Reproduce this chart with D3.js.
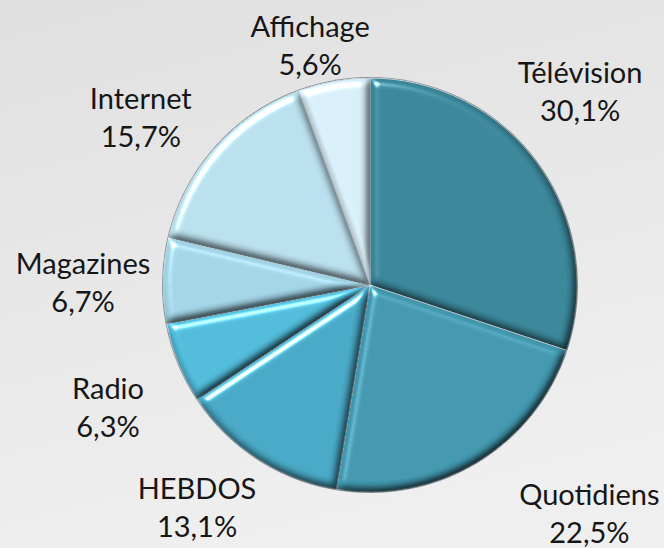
<!DOCTYPE html>
<html>
<head>
<meta charset="utf-8">
<script src="https://cdn.jsdelivr.net/npm/d3@7"></script>
<style>
  html, body { margin: 0; padding: 0; }
  body { width: 664px; height: 548px; overflow: hidden; }
  text { font-family: Lato, "Open Sans", sans-serif; fill: #161616; }
</style>
</head>
<body>
<svg id="chart" width="664" height="548"></svg>
<script>
// Media share of advertising spend
const categories = ["Télévision", "Quotidiens", "HEBDOS", "Radio", "Magazines", "Internet", "Affichage"];
const values     = [30.1, 22.5, 13.1, 6.3, 6.7, 15.7, 5.6];
const valueLabels = ["30,1%", "22,5%", "13,1%", "6,3%", "6,7%", "15,7%", "5,6%"];

const sliceColors = ["#398497", "#4196ae", "#47a6c3", "#50b9d8", "#a0d2e4", "#b7dcea", "#d5ebf5"];
// label offsets from the outer label arc, per slice
const labelNudge = [[-21, -26], [72, -15], [-18, -16], [2, 16], [-2, 4], [-16, 22], [-10, 42]];

const W = 664, H = 548;
const cx = 370, cy = 285, R = 207, labelR = 285;

const svg = d3.select("#chart");
const defs = svg.append("defs");

// soft grey backdrop
const bg = defs.append("linearGradient").attr("id", "bg")
  .attr("x1", 0).attr("y1", 0).attr("x2", 0.3).attr("y2", 1);
bg.append("stop").attr("offset", 0).attr("stop-color", "#e0e0e0");
bg.append("stop").attr("offset", 1).attr("stop-color", "#efefef");
svg.append("rect").attr("width", W).attr("height", H).attr("fill", "url(#bg)");

// rounded bevel for each wedge
const f = defs.append("filter").attr("id", "bevel")
  .attr("x", "-10%").attr("y", "-10%").attr("width", "120%").attr("height", "120%")
  .attr("color-interpolation-filters", "sRGB");
f.append("feGaussianBlur").attr("in", "SourceAlpha").attr("stdDeviation", 4).attr("result", "blur");
const diff = f.append("feDiffuseLighting").attr("in", "blur").attr("surfaceScale", 5)
  .attr("diffuseConstant", 1.155).attr("lighting-color", "#fff").attr("result", "diff");
diff.append("feDistantLight").attr("azimuth", 235).attr("elevation", 60);
f.append("feComposite").attr("in", "SourceGraphic").attr("in2", "diff")
  .attr("operator", "arithmetic").attr("k1", 1).attr("k2", 0).attr("k3", 0).attr("k4", 0)
  .attr("result", "shaded");
const spec = f.append("feSpecularLighting").attr("in", "blur").attr("surfaceScale", 5)
  .attr("specularConstant", 0.9).attr("specularExponent", 50)
  .attr("lighting-color", "#fff").attr("result", "spec");
spec.append("feDistantLight").attr("azimuth", 235).attr("elevation", 45);
f.append("feComposite").attr("in", "spec").attr("in2", "SourceAlpha")
  .attr("operator", "in").attr("result", "specIn");
f.append("feComposite").attr("in", "shaded").attr("in2", "specIn")
  .attr("operator", "arithmetic").attr("k1", 0).attr("k2", 1).attr("k3", 1).attr("k4", 0)
  .attr("result", "lit");
f.append("feComposite").attr("in", "lit").attr("in2", "SourceAlpha").attr("operator", "in");

const pie = d3.pie().sort(null).value(d => d.value);
const data = pie(categories.map((c, i) => ({ name: c, value: values[i], label: valueLabels[i], i })));

const arc = d3.arc().innerRadius(0).outerRadius(R);
const labelArc = d3.arc().innerRadius(labelR).outerRadius(labelR);

const g = svg.append("g").attr("transform", `translate(${cx},${cy})`);

// dark rim behind the wedges
g.append("circle").attr("r", R + 1).attr("fill", "#2b4a55").attr("opacity", 0.55);

g.selectAll("path.slice")
  .data(data)
  .join("path")
  .attr("class", "slice")
  .attr("d", arc)
  .attr("fill", d => sliceColors[d.index])
  .attr("stroke", "#cfd6d9")
  .attr("stroke-width", 1)
  .attr("filter", "url(#bevel)");

const lab = g.selectAll("text.lbl")
  .data(data)
  .join("text")
  .attr("class", "lbl")
  .attr("text-anchor", "middle")
  .attr("font-size", 29)
  .attr("transform", d => {
    const [x, y] = labelArc.centroid(d);
    const n = labelNudge[d.index];
    return `translate(${x + n[0]},${y + n[1]})`;
  });
lab.append("tspan").attr("x", 0).attr("y", -9).text(d => d.data.name);
lab.append("tspan").attr("x", 0).attr("y", 29).text(d => d.data.label);
</script>
</body>
</html>
